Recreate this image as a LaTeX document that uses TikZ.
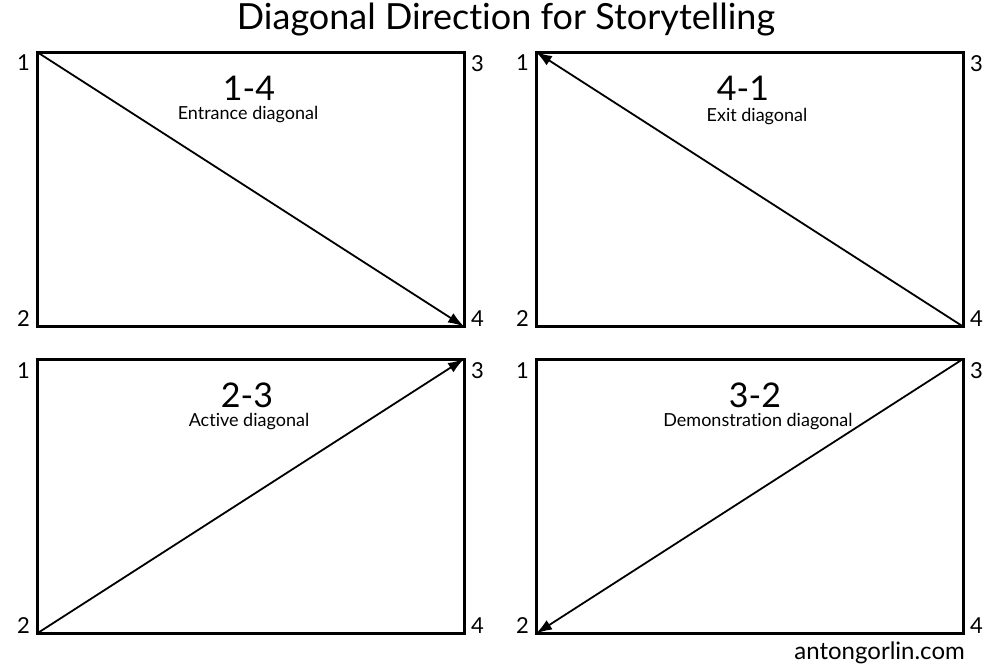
\documentclass[tikz,border=0pt]{standalone}
\usepackage{fontspec}
\setmainfont{Lato}[Ligatures={NoCommon,NoRare},Contextuals={NoAlternate}]
\usetikzlibrary{arrows.meta}
\begin{document}
\begin{tikzpicture}[x=1pt,y=-1pt,
  frame/.style={line width=3pt},
  diag/.style={line width=1.8pt,-{Latex[length=16pt,width=11pt]}},
  corner/.style={font=\fontsize{22}{26}\selectfont,inner sep=0pt},
  big/.style={font=\fontsize{34}{40}\selectfont,inner sep=0pt},
  small/.style={font=\fontsize{18}{22}\selectfont,inner sep=0pt}]
\useasboundingbox (0,0) rectangle (1000,667);
\node[inner sep=0pt,font=\fontsize{36}{42}\selectfont] (title) at (506,20) {Diagonal Direction for Storytelling};
% panels
\foreach \n/\xa/\ya in {A/37/52, B/536/52, C/37/359, D/536/359}{
  \coordinate (\n1) at (\xa,\ya);
  \coordinate (\n3) at ({\xa+427},\ya);
  \coordinate (\n2) at (\xa,{\ya+274.5});
  \coordinate (\n4) at ({\xa+427},{\ya+274.5});
  \draw[frame] (\n1) rectangle (\n4);
  \node[corner,anchor=north east] (\n l1) at ([xshift=-7pt,yshift=-3pt]\n1) {1};
  \node[corner,anchor=north west] (\n l3) at ([xshift=7pt,yshift=-3pt]\n3) {3};
  \node[corner,anchor=base east] (\n l2) at ([xshift=-7pt,yshift=0pt]\n2) {2};
  \node[corner,anchor=base west] (\n l4) at ([xshift=7pt,yshift=0pt]\n4) {4};
}
\draw[diag] (A1) -- (A4);
\draw[diag] (B4) -- (B1);
\draw[diag] (C2) -- (C3);
\draw[diag] (D3) -- (D2);
\node[big] (t1) at (249,88) {1-4};
\node[small] (s1) at (248,115) {Entrance diagonal};
\node[big] (t2) at (743,88) {4-1};
\node[small] (s2) at (757,117) {Exit diagonal};
\node[big] (t3) at (247,395) {2-3};
\node[small] (s3) at (249,422) {Active diagonal};
\node[big] (t4) at (755,395) {3-2};
\node[small] (s4) at (758,422) {Demonstration diagonal};
\node[inner sep=0pt,anchor=base east,font=\fontsize{24}{28}\selectfont] (web) at (965,659) {antongorlin.com};
\end{tikzpicture}
\end{document}
